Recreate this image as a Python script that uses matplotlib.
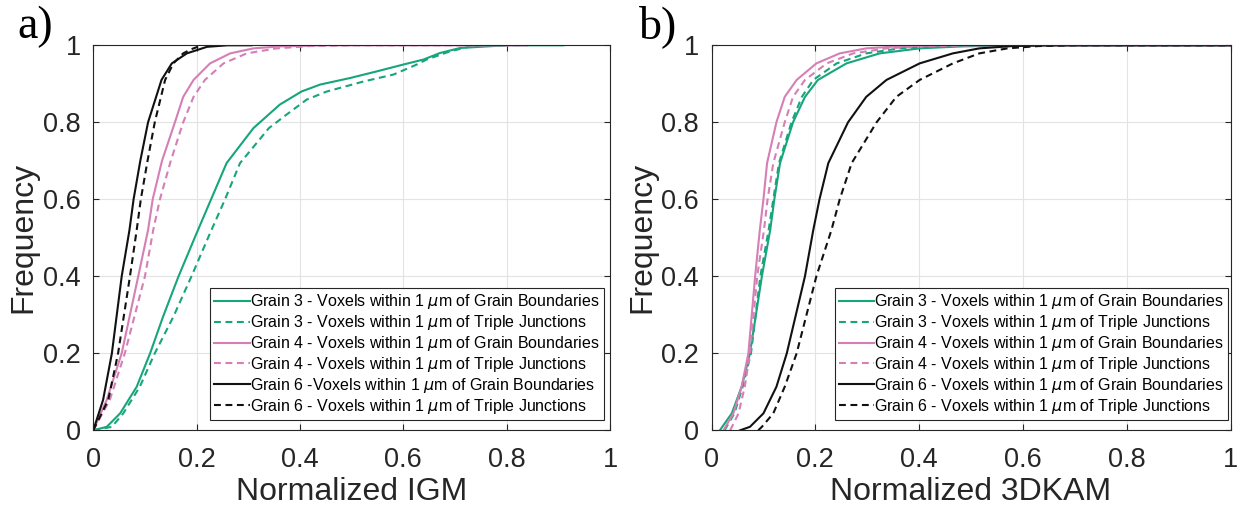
import numpy as np
import matplotlib

matplotlib.use("Agg")
import matplotlib.pyplot as plt  # noqa: E402

plt.rcParams["font.family"] = ["Liberation Sans", "DejaVu Sans"]
plt.rcParams["mathtext.fontset"] = "dejavusans"

GREEN = "#17a57b"
PINK = "#d57fb6"
BLACK = "#111111"

labels_a = [
    "Grain 3 - Voxels within 1 $\\mu$m of Grain Boundaries",
    "Grain 3 - Voxels within 1 $\\mu$m of Triple Junctions",
    "Grain 4 - Voxels within 1 $\\mu$m of Grain Boundaries",
    "Grain 4 - Voxels within 1 $\\mu$m of Triple Junctions",
    "Grain 6 -Voxels within 1 $\\mu$m of Grain Boundaries",
    "Grain 6 - Voxels within 1 $\\mu$m of Triple Junctions",
]
labels_b = labels_a[:4] + [
    "Grain 6 - Voxels within 1 $\\mu$m of Grain Boundaries",
    "Grain 6 - Voxels within 1 $\\mu$m of Triple Junctions",
]

# panel a) Normalized IGM cumulative curves
igm_g3_gb_x = [0, 0.026, 0.052, 0.084, 0.11, 0.135, 0.165, 0.2, 0.228, 0.258, 0.31, 0.361,
               0.403, 0.439, 0.497, 0.548, 0.6, 0.639, 0.671, 0.71, 0.8, 0.91]
igm_g3_gb_y = [0, 0.009, 0.044, 0.113, 0.2, 0.295, 0.4, 0.512, 0.6, 0.694, 0.785, 0.846,
               0.88, 0.898, 0.915, 0.932, 0.95, 0.963, 0.98, 0.993, 1, 1]
igm_g3_tj_x = [0, 0.036, 0.058, 0.09, 0.119, 0.155, 0.19, 0.226, 0.255, 0.284, 0.34, 0.374,
               0.413, 0.452, 0.523, 0.581, 0.626, 0.645, 0.69, 0.729, 0.8]
igm_g3_tj_y = [0, 0.009, 0.044, 0.113, 0.2, 0.295, 0.4, 0.512, 0.6, 0.694, 0.785, 0.82,
               0.859, 0.88, 0.906, 0.924, 0.95, 0.963, 0.984, 0.997, 1]
igm_g4_gb_x = [0, 0.026, 0.055, 0.087, 0.106, 0.115, 0.133, 0.158, 0.174, 0.194, 0.226, 0.265,
               0.31, 0.36, 0.45, 0.84]
igm_g4_gb_y = [0, 0.079, 0.2, 0.4, 0.52, 0.6, 0.7, 0.8, 0.866, 0.91, 0.953, 0.979,
               0.992, 0.997, 1, 1]
igm_g4_tj_x = [0, 0.032, 0.061, 0.1, 0.116, 0.129, 0.15, 0.174, 0.194, 0.216, 0.252, 0.297,
               0.355, 0.42, 0.5, 0.84]
igm_g4_tj_y = [0, 0.079, 0.2, 0.4, 0.52, 0.6, 0.7, 0.8, 0.866, 0.91, 0.953, 0.979,
               0.992, 0.998, 1, 1]
igm_g6_gb_x = [0, 0.019, 0.036, 0.055, 0.07, 0.078, 0.091, 0.106, 0.132, 0.152, 0.181, 0.22,
               0.26, 0.306]
igm_g6_gb_y = [0, 0.079, 0.2, 0.4, 0.52, 0.6, 0.7, 0.8, 0.91, 0.953, 0.979, 0.996, 1, 1]
igm_g6_tj_x = [0, 0.029, 0.048, 0.071, 0.084, 0.092, 0.105, 0.119, 0.139, 0.155, 0.174, 0.19, 0.21]
igm_g6_tj_y = [0, 0.079, 0.2, 0.4, 0.52, 0.6, 0.7, 0.8, 0.91, 0.953, 0.979, 0.99, 1]

# panel b) Normalized 3DKAM cumulative curves
kam_levels = [0, 0.044, 0.113, 0.2, 0.4, 0.52, 0.6, 0.694, 0.8, 0.866, 0.91, 0.953,
              0.979, 0.992, 0.997, 1, 1]
kam_g3_gb_x = [0.016, 0.039, 0.058, 0.074, 0.097, 0.113, 0.121, 0.132, 0.157, 0.18, 0.205, 0.26,
               0.324, 0.401, 0.48, 0.58, 1]
kam_g3_tj_x = [0.025, 0.044, 0.06, 0.076, 0.094, 0.11, 0.119, 0.13, 0.154, 0.174, 0.196, 0.241,
               0.298, 0.362, 0.43, 0.55, 1]
kam_g4_gb_x = [0.023, 0.042, 0.058, 0.071, 0.084, 0.093, 0.1, 0.107, 0.125, 0.141, 0.164, 0.202,
               0.247, 0.298, 0.356, 0.45, 1]
kam_g4_tj_x = [0.036, 0.052, 0.064, 0.074, 0.088, 0.101, 0.108, 0.119, 0.141, 0.157, 0.18, 0.222,
               0.273, 0.337, 0.4, 0.5, 1]
kam_g6_levels = [0, 0.009, 0.044, 0.113, 0.2, 0.4, 0.52, 0.6, 0.694, 0.8, 0.866, 0.91,
                 0.953, 0.979, 0.992, 0.998, 1, 1]
kam_g6_gb_x = [0.055, 0.074, 0.1, 0.125, 0.145, 0.18, 0.196, 0.208, 0.225, 0.263, 0.298, 0.337,
               0.401, 0.465, 0.516, 0.58, 0.65, 1]
kam_g6_tj_x = [0.09, 0.097, 0.119, 0.141, 0.164, 0.202, 0.231, 0.247, 0.27, 0.318, 0.356, 0.401,
               0.465, 0.516, 0.57, 0.63, 0.7, 1]

ticks = [0, 0.2, 0.4, 0.6, 0.8, 1]
tick_labels = ["0", "0.2", "0.4", "0.6", "0.8", "1"]

fig = plt.figure(figsize=(12.47, 5.2), dpi=100)
ax_a = fig.add_axes([0.0748, 0.1725, 0.4144, 0.7404])
ax_b = fig.add_axes([0.5706, 0.1725, 0.4162, 0.7404])

panel_a = [
    (igm_g3_gb_x, igm_g3_gb_y, GREEN, "-"),
    (igm_g3_tj_x, igm_g3_tj_y, GREEN, "--"),
    (igm_g4_gb_x, igm_g4_gb_y, PINK, "-"),
    (igm_g4_tj_x, igm_g4_tj_y, PINK, "--"),
    (igm_g6_gb_x, igm_g6_gb_y, BLACK, "-"),
    (igm_g6_tj_x, igm_g6_tj_y, BLACK, "--"),
]
panel_b = [
    (kam_g3_gb_x, kam_levels, GREEN, "-"),
    (kam_g3_tj_x, kam_levels, GREEN, "--"),
    (kam_g4_gb_x, kam_levels, PINK, "-"),
    (kam_g4_tj_x, kam_levels, PINK, "--"),
    (kam_g6_gb_x, kam_g6_levels, BLACK, "-"),
    (kam_g6_tj_x, kam_g6_levels, BLACK, "--"),
]

for ax, curves, labels, xlabel, tag, tag_x, leg_x in [
    (ax_a, panel_a, labels_a, "Normalized IGM", "a)", 0.0285, 0.988),
    (ax_b, panel_b, labels_b, "Normalized 3DKAM", "b)", 0.528, 0.995),
]:
    for (x, y, c, ls), lab in zip(curves, labels):
        kw = {"dashes": (3.3, 2.2)} if ls == "--" else {}
        ax.plot(np.array(x), np.array(y), color=c, lw=1.5, label=lab,
                solid_joinstyle="round", **kw)
    ax.set_xlim(0, 1)
    ax.set_ylim(0, 1)
    ax.set_xticks(ticks)
    ax.set_xticklabels(tick_labels)
    ax.set_yticks(ticks)
    ax.set_yticklabels(tick_labels)
    ax.grid(True, color="#e3e3e3", lw=0.8)
    ax.set_axisbelow(True)
    ax.tick_params(direction="in", length=4, width=0.8, labelsize=19.5, colors="#262626",
                   top=True, right=True)
    ax.tick_params(axis="x", pad=12)
    ax.tick_params(axis="y", pad=9)
    for s in ax.spines.values():
        s.set_color("#262626")
        s.set_linewidth(0.8)
    ax.set_xlabel(xlabel, fontsize=23, color="#262626", labelpad=3)
    ax.set_ylabel("Frequency", fontsize=23, color="#262626", labelpad=3)
    leg = ax.legend(loc="lower right", bbox_to_anchor=(leg_x, 0.027), fontsize=11.5,
                    frameon=True, fancybox=False, edgecolor="#262626", handlelength=2.2,
                    handletextpad=0.05, labelspacing=0.12, borderpad=0.25, borderaxespad=0,
                    framealpha=1)
    leg.get_frame().set_linewidth(0.8)
    fig.text(tag_x, 0.948, tag, fontsize=33, family="Liberation Serif",
             ha="center", va="center")

fig.savefig("out.png", dpi=100)
plt.close(fig)
